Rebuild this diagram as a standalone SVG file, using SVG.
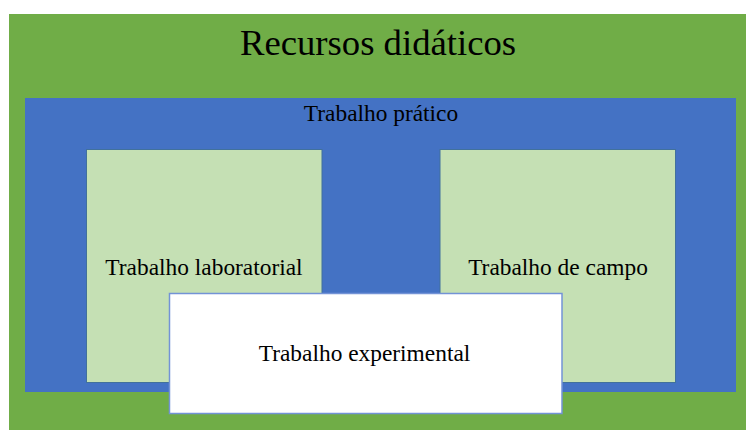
<svg xmlns="http://www.w3.org/2000/svg" width="746" height="430" viewBox="0 0 746 430">
<style>
.sub{fill:#C5E0B4;stroke:#41719C;stroke-width:1}
</style>
<rect width="746" height="430" fill="#fff"/>
<g font-family="'Liberation Serif', 'Times New Roman', 'DejaVu Serif', serif" text-anchor="middle" fill="#000">
<g id="recursos">
<rect x="9" y="14" width="737" height="416" fill="#70AD47"/>
<text x="378" y="55" font-size="36.7">Recursos didáticos</text>
</g>
<g id="pratico">
<rect x="25" y="98" width="711" height="294" fill="#4472C4"/>
<text x="381" y="120.7" font-size="23.4">Trabalho prático</text>
</g>
<g id="laboratorial">
<rect class="sub" x="86.5" y="149.5" width="235.5" height="233"/>
<text x="204" y="274.7" font-size="23.4">Trabalho laboratorial</text>
</g>
<g id="campo">
<rect class="sub" x="440" y="149.5" width="235.5" height="233"/>
<text x="558" y="274.7" font-size="23.4">Trabalho de campo</text>
</g>
<g id="experimental">
<rect x="169.5" y="293.5" width="392.5" height="120" fill="#fff" stroke="#7393D6" stroke-width="1.5"/>
<text x="364.5" y="360.7" font-size="23.4">Trabalho experimental</text>
</g>
</g>
<g id="connectors"></g>
</svg>
